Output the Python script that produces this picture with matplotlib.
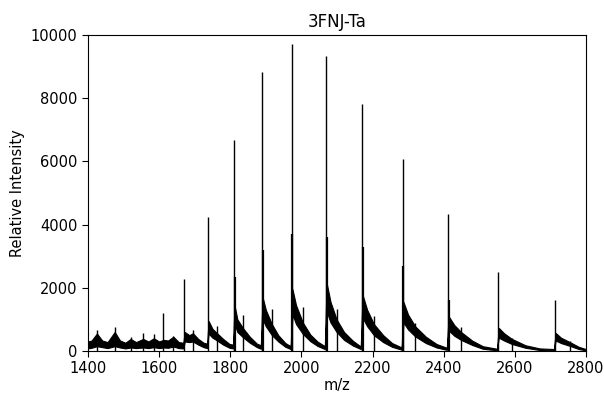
import numpy as np
import matplotlib
matplotlib.use("Agg")
import matplotlib.pyplot as plt

# main peak series (m/z, intensity)
peak_mz = [1670, 1737, 1810, 1889, 1973, 2069, 2170, 2285, 2412, 2553, 2713]
peak_int = [2270, 4230, 6670, 8820, 9700, 9330, 7810, 6070, 4330, 2500, 1620]

# secondary lines sitting just after the main peaks
side_mz = [1812, 1891, 1975, 2071, 2172, 2287, 2414]
side_int = [2350, 3200, 3700, 3600, 3300, 2700, 1600]

# small spikes
minor_mz = [1425, 1475, 1520, 1555, 1585, 1612, 1640, 1695, 1763, 1836,
            1917, 2004, 2099, 2204, 2319, 2449, 2592, 2755]
minor_int = [650, 760, 450, 560, 550, 1200, 480, 660, 790, 1140,
             1330, 1390, 1330, 1100, 880, 760, 410, 320]

# noise band (low / high edge)
env_mz = [1400, 1410, 1425, 1440, 1455, 1475, 1490, 1505, 1520, 1535,
          1555, 1570, 1585, 1600, 1612, 1625, 1640, 1655, 1668, 1672,
          1685, 1695, 1710, 1725, 1735, 1739, 1750, 1763, 1780, 1798,
          1808, 1812, 1820, 1836, 1855, 1875, 1886, 1891, 1900, 1917,
          1935, 1955, 1970, 1975, 1985, 2004, 2025, 2045, 2066, 2071,
          2082, 2099, 2120, 2145, 2167, 2172, 2185, 2204, 2230, 2255,
          2282, 2287, 2300, 2320, 2350, 2380, 2409, 2414, 2430, 2449,
          2480, 2510, 2550, 2555, 2570, 2592, 2630, 2670, 2710, 2715,
          2730, 2755, 2780, 2800]
env_lo = [80, 100, 150, 120, 90, 150, 110, 80, 110, 90,
          110, 90, 120, 90, 110, 100, 140, 90, 80, 300,
          280, 300, 200, 120, 90, 550, 420, 330, 200, 100,
          80, 850, 600, 430, 260, 120, 70, 1000, 780, 500,
          300, 130, 60, 1150, 850, 540, 310, 160, 60, 1250,
          900, 600, 350, 170, 60, 1050, 780, 500, 280, 130,
          40, 900, 680, 460, 250, 110, 35, 650, 480, 350,
          190, 70, 20, 420, 330, 220, 100, 30, 15, 330,
          250, 160, 60, 20]
env_hi = [300, 330, 550, 330, 280, 600, 330, 260, 380, 280,
          380, 300, 400, 300, 350, 330, 450, 280, 260, 600,
          500, 560, 380, 260, 230, 950, 700, 560, 380, 220,
          200, 1450, 1000, 720, 450, 230, 180, 1700, 1300, 850,
          500, 250, 150, 1950, 1450, 900, 520, 300, 150, 2150,
          1550, 1000, 600, 320, 140, 1780, 1300, 850, 500, 250,
          110, 1550, 1150, 780, 450, 220, 100, 1100, 820, 600,
          330, 150, 70, 730, 560, 380, 180, 80, 60, 570,
          420, 280, 130, 60]

fig, ax = plt.subplots(figsize=(6.04, 3.93), dpi=100)
fig.subplots_adjust(left=0.1457, right=0.970, top=0.911, bottom=0.107)

ax.fill_between(env_mz, env_lo, env_hi, color="black", linewidth=0.8)
ax.vlines(minor_mz, 0, minor_int, color="black", linewidth=1.0)
ax.vlines(side_mz, 0, side_int, color="black", linewidth=1.6)
ax.vlines(peak_mz, 0, peak_int, color="black", linewidth=1.0)

ax.set_xlim(1400, 2800)
ax.set_ylim(0, 10000)
ax.set_xticks(range(1400, 2801, 200))
ax.set_yticks(range(0, 10001, 2000))
ax.tick_params(labelsize=10.5, length=4)
ax.set_xlabel("m/z", fontsize=10.5, labelpad=1)
ax.set_ylabel("Relative Intensity", fontsize=10.5)
ax.set_title("3FNJ-Ta", fontsize=12, pad=6)

fig.savefig("out.png", dpi=100)
